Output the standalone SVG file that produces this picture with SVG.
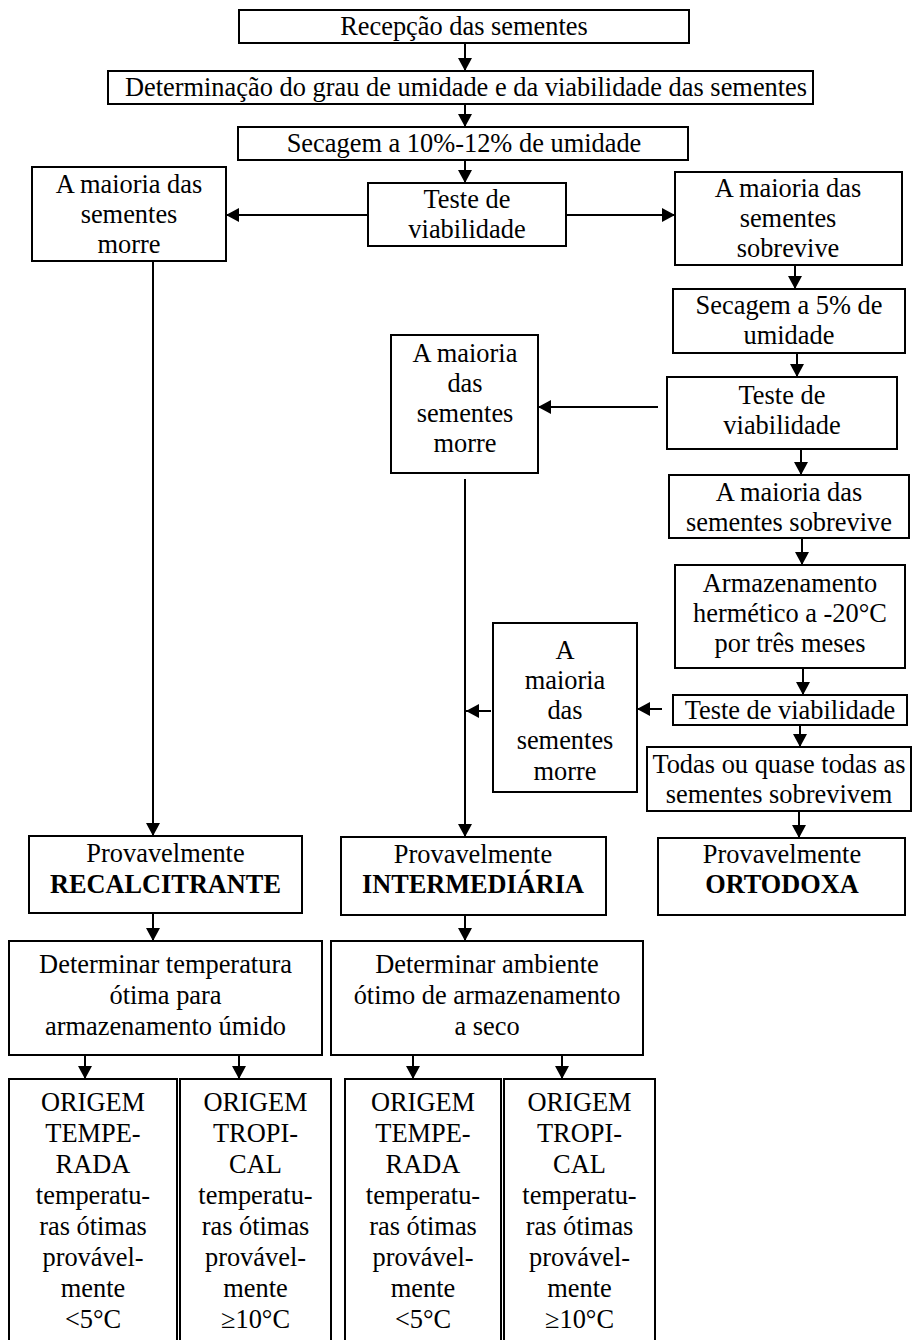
<svg xmlns="http://www.w3.org/2000/svg" width="913" height="1340" viewBox="0 0 913 1340">
<defs>
<style>
.b{fill:#fff;stroke:#000;stroke-width:2}
.t{font-family:'Liberation Serif','Times New Roman',Times,'DejaVu Serif',serif;font-size:26.4px;fill:#000;text-anchor:middle}
.bold{font-weight:bold;font-size:26.3px}
.c{stroke:#000;stroke-width:2;fill:none;marker-end:url(#ah)}
</style>
<marker id="ah" viewBox="0 0 13 14" refX="13" refY="7" markerWidth="13" markerHeight="14" markerUnits="userSpaceOnUse" orient="auto">
<path d="M0,0 L13,7 L0,14 z" fill="#000"/>
</marker>
</defs>
<rect width="913" height="1340" fill="#fff"/>
<g id="connectors">
<line class="c" x1="465" y1="43" x2="465" y2="71"/>
<line class="c" x1="465" y1="104" x2="465" y2="127"/>
<line class="c" x1="465" y1="160" x2="465" y2="183"/>
<line class="c" x1="368" y1="215" x2="226" y2="215"/>
<line class="c" x1="566" y1="215" x2="675" y2="215"/>
<line class="c" x1="795" y1="265" x2="795" y2="289"/>
<line class="c" x1="797" y1="353" x2="797" y2="377"/>
<line class="c" x1="658" y1="407" x2="538" y2="407"/>
<line class="c" x1="801" y1="449" x2="801" y2="475"/>
<line class="c" x1="802" y1="538" x2="802" y2="565"/>
<line class="c" x1="803" y1="668" x2="803" y2="695"/>
<line class="c" x1="662" y1="709" x2="637" y2="709"/>
<line class="c" x1="491" y1="711" x2="466" y2="711"/>
<line class="c" x1="800" y1="725" x2="800" y2="747"/>
<line class="c" x1="799" y1="811" x2="799" y2="838"/>
<line class="c" x1="153" y1="261" x2="153" y2="836"/>
<line class="c" x1="465" y1="479" x2="465" y2="837"/>
<line class="c" x1="153" y1="913" x2="153" y2="941"/>
<line class="c" x1="465" y1="915" x2="465" y2="941"/>
<line class="c" x1="85" y1="1055" x2="85" y2="1079"/>
<line class="c" x1="239" y1="1055" x2="239" y2="1079"/>
<line class="c" x1="413" y1="1055" x2="413" y2="1079"/>
<line class="c" x1="562" y1="1055" x2="562" y2="1079"/>
</g>
<g font-family="Liberation Serif, Times New Roman, serif">
<g id="n_recepcao"><rect class="b" x="239" y="10" width="450" height="33"/><text class="t" x="464" y="35">Recepção das sementes</text></g>
<g id="n_determinacao"><rect class="b" x="108" y="71" width="705" height="33"/><text class="t" x="466" y="96">Determinação do grau de umidade e da viabilidade das sementes</text></g>
<g id="n_secagem12"><rect class="b" x="238" y="127" width="450" height="33"/><text class="t" x="464" y="152">Secagem a 10%-12% de umidade</text></g>
<g id="n_teste1"><rect class="b" x="368" y="183" width="198" height="63"/><text class="t" x="467" y="208">Teste de</text><text class="t" x="467" y="238">viabilidade</text></g>
<g id="n_morre1"><rect class="b" x="32" y="167" width="194" height="94"/><text class="t" x="129" y="193">A maioria das</text><text class="t" x="129" y="223">sementes</text><text class="t" x="129" y="253">morre</text></g>
<g id="n_sobrevive1"><rect class="b" x="675" y="172" width="227" height="93"/><text class="t" x="788" y="197">A maioria das</text><text class="t" x="788" y="227">sementes</text><text class="t" x="788" y="257">sobrevive</text></g>
<g id="n_secagem5"><rect class="b" x="673" y="289" width="232" height="64"/><text class="t" x="789" y="314">Secagem a 5% de</text><text class="t" x="789" y="344">umidade</text></g>
<g id="n_teste2"><rect class="b" x="667" y="377" width="230" height="72"/><text class="t" x="782" y="404">Teste de</text><text class="t" x="782" y="434">viabilidade</text></g>
<g id="n_morre2"><rect class="b" x="391" y="335" width="147" height="138"/><text class="t" x="465" y="362">A maioria</text><text class="t" x="465" y="392">das</text><text class="t" x="465" y="422">sementes</text><text class="t" x="465" y="452">morre</text></g>
<g id="n_sobrevive2"><rect class="b" x="669" y="475" width="240" height="63"/><text class="t" x="789" y="501">A maioria das</text><text class="t" x="789" y="531">sementes sobrevive</text></g>
<g id="n_armazenamento"><rect class="b" x="675" y="565" width="230" height="103"/><text class="t" x="790" y="592">Armazenamento</text><text class="t" x="790" y="622">hermético a -20°C</text><text class="t" x="790" y="652">por três meses</text></g>
<g id="n_teste3"><rect class="b" x="673" y="695" width="234" height="30"/><text class="t" x="790" y="719">Teste de viabilidade</text></g>
<g id="n_morre3"><rect class="b" x="493" y="623" width="144" height="169"/><text class="t" x="565" y="659">A</text><text class="t" x="565" y="689">maioria</text><text class="t" x="565" y="719">das</text><text class="t" x="565" y="749">sementes</text><text class="t" x="565" y="780">morre</text></g>
<g id="n_todas"><rect class="b" x="647" y="747" width="264" height="64"/><text class="t" x="779" y="773">Todas ou quase todas as</text><text class="t" x="779" y="803">sementes sobrevivem</text></g>
<g id="n_recalcitrante"><rect class="b" x="29" y="836" width="273" height="77"/><text class="t" x="165.5" y="862">Provavelmente</text><text class="t bold" x="165.5" y="893">RECALCITRANTE</text></g>
<g id="n_intermediaria"><rect class="b" x="341" y="837" width="265" height="78"/><text class="t" x="473" y="863">Provavelmente</text><text class="t bold" x="473" y="893">INTERMEDIÁRIA</text></g>
<g id="n_ortodoxa"><rect class="b" x="658" y="838" width="247" height="77"/><text class="t" x="782" y="863">Provavelmente</text><text class="t bold" x="782" y="893">ORTODOXA</text></g>
<g id="n_det_temp"><rect class="b" x="9" y="941" width="313" height="114"/><text class="t" x="165.5" y="973">Determinar temperatura</text><text class="t" x="165.5" y="1004">ótima para</text><text class="t" x="165.5" y="1035">armazenamento úmido</text></g>
<g id="n_det_amb"><rect class="b" x="331" y="941" width="312" height="114"/><text class="t" x="487" y="973">Determinar ambiente</text><text class="t" x="487" y="1004">ótimo de armazenamento</text><text class="t" x="487" y="1035">a seco</text></g>
<g id="n_temp1"><rect class="b" x="9" y="1079" width="168" height="270"/><text class="t" x="93" y="1111">ORIGEM</text><text class="t" x="93" y="1142">TEMPE-</text><text class="t" x="93" y="1173">RADA</text><text class="t" x="93" y="1204">temperatu-</text><text class="t" x="93" y="1235">ras ótimas</text><text class="t" x="93" y="1266">provável-</text><text class="t" x="93" y="1297">mente</text><text class="t" x="93" y="1328">&lt;5°C</text></g>
<g id="n_trop1"><rect class="b" x="180" y="1079" width="151" height="270"/><text class="t" x="255.5" y="1111">ORIGEM</text><text class="t" x="255.5" y="1142">TROPI-</text><text class="t" x="255.5" y="1173">CAL</text><text class="t" x="255.5" y="1204">temperatu-</text><text class="t" x="255.5" y="1235">ras ótimas</text><text class="t" x="255.5" y="1266">provável-</text><text class="t" x="255.5" y="1297">mente</text><text class="t" x="255.5" y="1328">≥10°C</text></g>
<g id="n_temp2"><rect class="b" x="345" y="1079" width="156" height="270"/><text class="t" x="423" y="1111">ORIGEM</text><text class="t" x="423" y="1142">TEMPE-</text><text class="t" x="423" y="1173">RADA</text><text class="t" x="423" y="1204">temperatu-</text><text class="t" x="423" y="1235">ras ótimas</text><text class="t" x="423" y="1266">provável-</text><text class="t" x="423" y="1297">mente</text><text class="t" x="423" y="1328">&lt;5°C</text></g>
<g id="n_trop2"><rect class="b" x="504" y="1079" width="151" height="270"/><text class="t" x="579.5" y="1111">ORIGEM</text><text class="t" x="579.5" y="1142">TROPI-</text><text class="t" x="579.5" y="1173">CAL</text><text class="t" x="579.5" y="1204">temperatu-</text><text class="t" x="579.5" y="1235">ras ótimas</text><text class="t" x="579.5" y="1266">provável-</text><text class="t" x="579.5" y="1297">mente</text><text class="t" x="579.5" y="1328">≥10°C</text></g>
</g>
</svg>
